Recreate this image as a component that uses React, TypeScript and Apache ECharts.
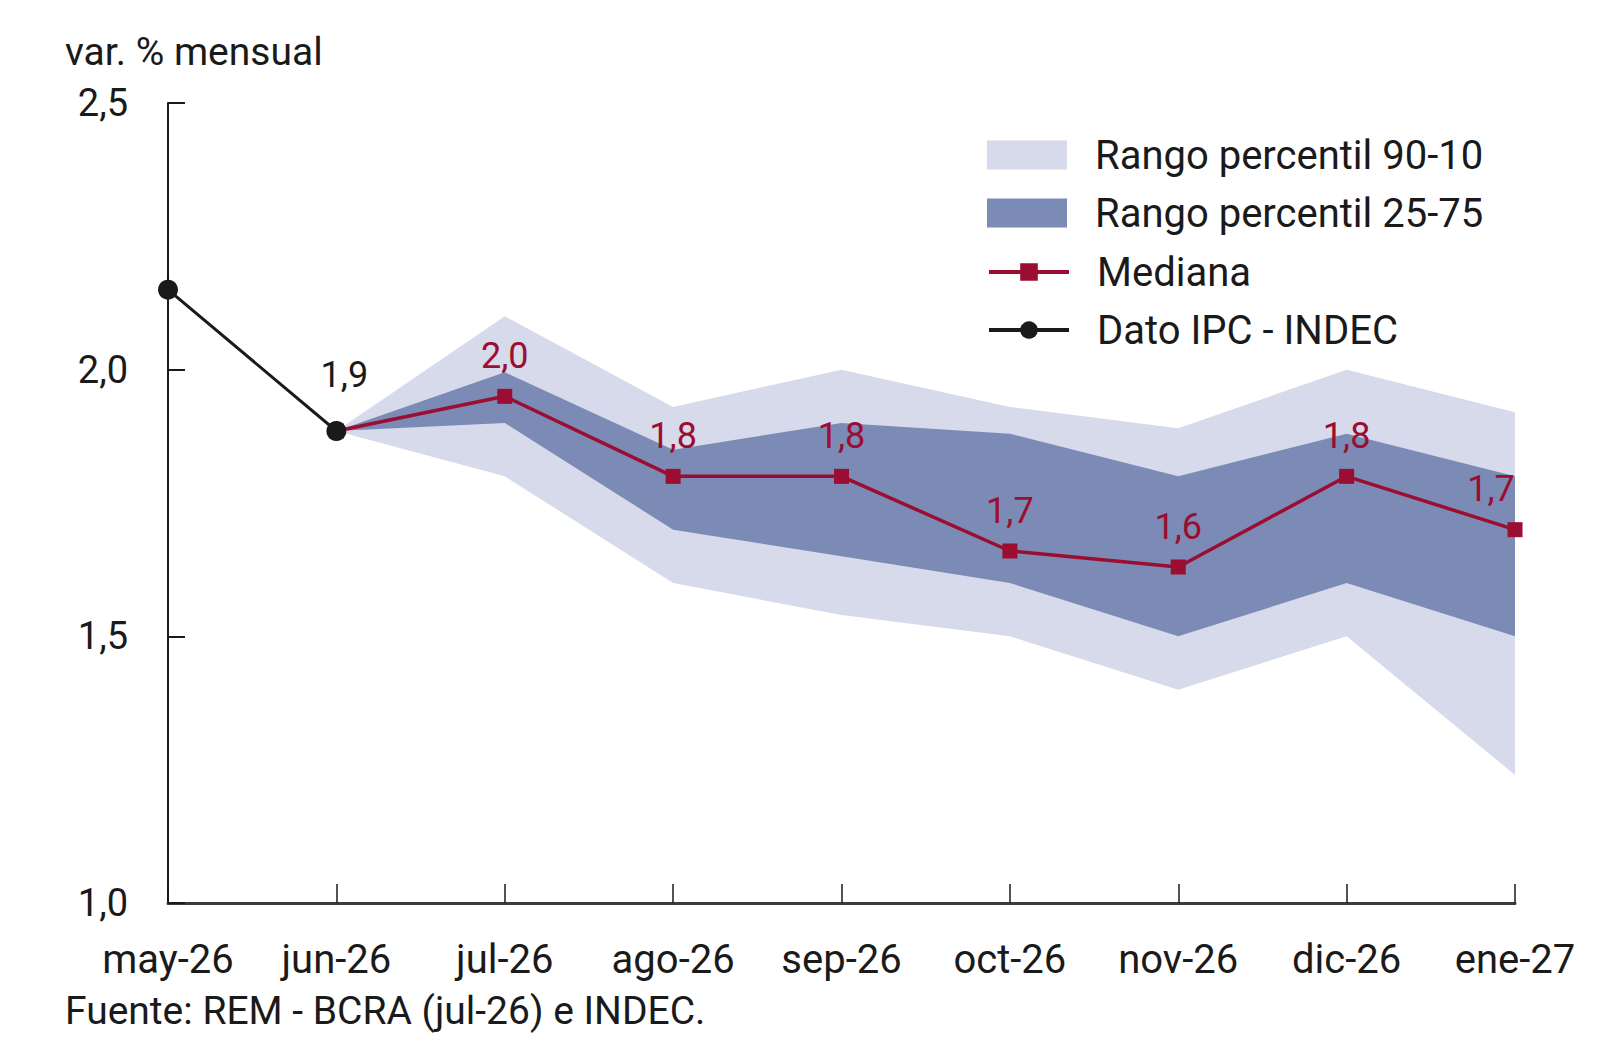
import { useEffect, useRef } from 'react';
import * as echarts from 'echarts';

const months = ['may-26', 'jun-26', 'jul-26', 'ago-26', 'sep-26', 'oct-26', 'nov-26', 'dic-26', 'ene-27'];
const datoIpc = [2.15, 1.885, null, null, null, null, null, null, null];
const mediana = [null, 1.885, 1.95, 1.8, 1.8, 1.66, 1.63, 1.8, 1.7];
const p90 = [null, 1.885, 2.1, 1.93, 2.0, 1.93, 1.89, 2.0, 1.92];
const p10 = [null, 1.885, 1.8, 1.6, 1.54, 1.5, 1.4, 1.5, 1.24];
const p75 = [null, 1.885, 1.995, 1.85, 1.9, 1.88, 1.8, 1.88, 1.8];
const p25 = [null, 1.885, 1.9, 1.7, 1.65, 1.6, 1.5, 1.6, 1.5];

const FONT = 'Roboto';
const INK = '#1a1a1a';
const LIGHT = '#d6daea';
const DARK = '#7b8bb5';
const RED = '#9b0d31';

const fmt = (v: number) => (Math.round(v * 10 + 1e-6) / 10).toFixed(1).replace('.', ',');

// stacked band needs (upper - lower) on top of lower
const spread = (hi: (number | null)[], lo: (number | null)[]) =>
  hi.map((v, i) => (v == null || lo[i] == null ? null : +(v - (lo[i] as number)).toFixed(4)));

function band(name: string, lo: (number | null)[], hi: (number | null)[], color: string, stack: string) {
  return [
    {
      name: stack + '-base',
      type: 'line' as const,
      stack,
      data: lo,
      symbol: 'none',
      lineStyle: { opacity: 0 },
      silent: true,
    },
    {
      name,
      type: 'line' as const,
      stack,
      data: spread(hi, lo),
      symbol: 'none',
      color,
      itemStyle: { color },
      lineStyle: { opacity: 0, width: 0 },
      areaStyle: { color, opacity: 1 },
      silent: true,
    },
  ];
}

export default function App() {
  const ref = useRef<HTMLDivElement>(null);

  useEffect(() => {
    if (!ref.current) return;
    const chart = echarts.init(ref.current, null, { renderer: 'svg' });

    const legendText = { fontFamily: FONT, fontSize: 40, color: INK, padding: [0, 0, 0, 23] };

    chart.setOption({
      animation: false,
      backgroundColor: '#fff',
      textStyle: { fontFamily: FONT },
      title: [
        {
          text: 'var. % mensual',
          left: 52,
          top: 19,
          textStyle: { fontFamily: FONT, fontSize: 39, fontWeight: 'normal', color: INK },
        },
        {
          text: 'Fuente: REM - BCRA (jul-26) e INDEC.',
          left: 52,
          top: 978,
          textStyle: { fontFamily: FONT, fontSize: 39, fontWeight: 'normal', color: INK },
        },
      ],
      legend: [
        {
          data: ['Rango percentil 90-10', 'Rango percentil 25-75'],
          orient: 'vertical',
          left: 974,
          top: 122,
          icon: 'rect',
          itemWidth: 80,
          itemHeight: 29,
          itemGap: 18,
          itemStyle: { borderWidth: 0 },
          textStyle: legendText,
          selectedMode: false,
        },
        {
          data: ['Mediana', 'Dato IPC - INDEC'],
          orient: 'vertical',
          left: 974,
          top: 239,
          itemWidth: 80,
          itemHeight: 22,
          itemGap: 18,
          lineStyle: { width: 4 },
          textStyle: legendText,
          selectedMode: false,
        },
      ],
      grid: { left: 160, right: 77, top: 95, bottom: 131, containLabel: false },
      xAxis: {
        type: 'category',
        data: months,
        boundaryGap: false,
        axisLine: { lineStyle: { color: '#3a3a3a', width: 3 } },
        axisTick: { inside: true, interval: 0, length: 19, lineStyle: { color: INK, width: 1.5 } },
        axisLabel: { interval: 0, fontFamily: FONT, fontSize: 40, color: INK, margin: 36 },
        splitLine: { show: false },
      },
      yAxis: {
        type: 'value',
        min: 1,
        max: 2.5,
        interval: 0.5,
        axisLine: { show: true, lineStyle: { color: INK, width: 2 } },
        axisTick: { show: true, inside: true, length: 17, lineStyle: { color: INK, width: 2 } },
        axisLabel: { fontFamily: FONT, fontSize: 38, color: INK, margin: 40, formatter: (v: number) => fmt(v) },
        splitLine: { show: false },
      },
      series: [
        ...band('Rango percentil 90-10', p10, p90, LIGHT, 'p90'),
        ...band('Rango percentil 25-75', p25, p75, DARK, 'p25'),
        {
          name: 'Mediana',
          type: 'line',
          data: mediana.map((v, i) =>
            i === months.length - 1 ? { value: v, label: { offset: [-24, 0] } } : v,
          ),
          color: RED,
          symbol: 'rect',
          symbolSize: 15,
          lineStyle: { color: RED, width: 3.5 },
          itemStyle: { color: RED },
          label: {
            show: true,
            position: 'top',
            distance: 15,
            fontFamily: FONT,
            fontSize: 36,
            color: RED,
            formatter: (p: any) => (p.dataIndex <= 1 ? '' : fmt(p.value)),
          },
          z: 5,
        },
        {
          name: 'Dato IPC - INDEC',
          type: 'line',
          data: datoIpc,
          color: INK,
          symbol: 'circle',
          symbolSize: 20,
          lineStyle: { color: INK, width: 3 },
          itemStyle: { color: INK },
          label: {
            show: true,
            position: 'top',
            distance: 28,
            offset: [8, 0],
            fontFamily: FONT,
            fontSize: 36,
            color: INK,
            formatter: (p: any) => (p.dataIndex === 1 ? fmt(p.value) : ''),
          },
          z: 6,
        },
      ],
    });

    return () => chart.dispose();
  }, []);

  return <div ref={ref} style={{ width: 1584, height: 1026 }} />;
}
